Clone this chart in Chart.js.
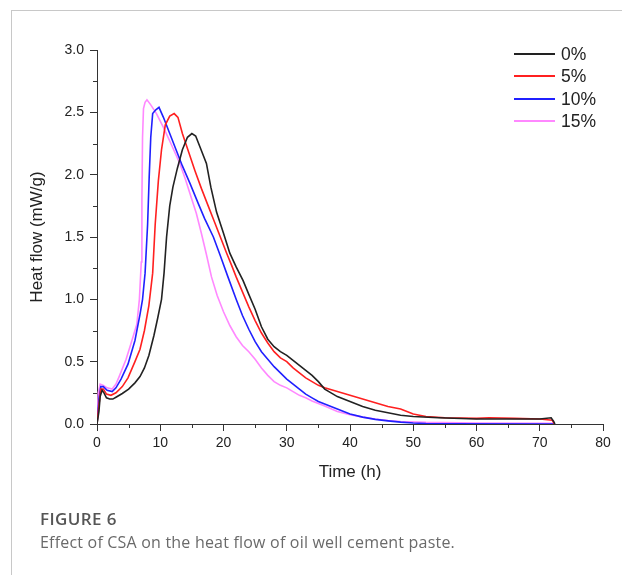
<!DOCTYPE html>
<html>
<head>
<meta charset="utf-8">
<script src="https://cdn.jsdelivr.net/npm/chart.js@4"></script>
<style>
  html, body { margin:0; padding:0; background:#fff; }
  #wrap { position:relative; width:622px; height:575px; overflow:hidden; }
  #frame { position:absolute; left:11px; top:10px; width:620px; height:580px;
           border-left:1px solid #c8c8c8; border-top:1px solid #c8c8c8; }
  canvas { position:absolute; left:0; top:0; }
  #legend { position:absolute; left:0; top:0; font-family:"Liberation Sans", Arial, sans-serif;
            font-size:17.5px; color:#222; }
  .lg-row { position:absolute; left:514px; width:100px; height:20px; }
  .lg-line { position:absolute; left:0; top:9px; width:41px; height:2px; }
  .lg-text { position:absolute; left:47px; top:0; line-height:20px; }
  #cap1 { position:absolute; left:40px; top:508px; font-family:"Open Sans", sans-serif; font-weight:600;
          font-size:17px; letter-spacing:0.4px; color:#555; line-height:22px; }
  #cap2 { position:absolute; left:40px; top:531px; font-family:"Open Sans", sans-serif; font-weight:400;
          font-size:16px; letter-spacing:0.2px; color:#6a6a6a; line-height:22px; }
</style>
</head>
<body>
<div id="wrap">
  <div id="frame"></div>
  <canvas id="c" width="622" height="575"></canvas>
  <div id="legend"></div>
  <div id="cap1">FIGURE 6</div>
  <div id="cap2">Effect of CSA on the heat flow of oil well cement paste.</div>
</div>
<script>
// ---- Data ----
const seriesLabels = ["0%", "5%", "10%", "15%"];
const seriesColors = ["#222222", "#ff2020", "#2020ff", "#ff88ff"];

const time0 = [0,0.3,0.5,0.8,1.1,1.5,2.0,2.5,3.0,4.0,5.0,6.0,6.8,7.5,8.2,9.0,9.6,10.2,10.6,11.0,11.5,12.0,12.7,13.5,14.3,15.0,15.6,16.3,17.3,18.0,18.9,20.0,21.0,22.0,23.1,24,25,26,27,28,29,30,31,32,33,34,35,36,37,38,40,42,44,46,48,50,54,60,66,70,71.8,72.2,72.4];
const flow0 = [0,0.10,0.22,0.27,0.25,0.21,0.20,0.20,0.215,0.245,0.28,0.33,0.38,0.45,0.55,0.71,0.85,1.00,1.21,1.50,1.75,1.90,2.05,2.20,2.30,2.33,2.31,2.22,2.09,1.90,1.70,1.53,1.37,1.26,1.15,1.04,0.92,0.78,0.68,0.62,0.58,0.55,0.51,0.47,0.43,0.39,0.34,0.28,0.25,0.22,0.18,0.14,0.11,0.09,0.07,0.06,0.05,0.04,0.04,0.04,0.05,0.02,0];

const time5 = [0,0.3,0.6,1.0,1.5,2.2,3.0,4.0,4.9,6.0,6.8,7.5,8.2,8.8,9.2,9.7,10.2,10.8,11.5,12.2,12.8,13.5,14.5,15.5,16.5,17.5,18.5,19.5,20.5,21.3,22,23,24,25,26,27,28,29,30,31,32,33,34,35,36,38,40,42,44,46,48,49,50,52,55,60,62,66,70,72,72.3];
const flow5 = [0,0.15,0.28,0.28,0.24,0.23,0.25,0.30,0.37,0.50,0.60,0.75,0.95,1.21,1.60,1.95,2.20,2.40,2.47,2.49,2.46,2.33,2.18,2.03,1.89,1.76,1.63,1.50,1.37,1.27,1.18,1.06,0.94,0.83,0.73,0.65,0.58,0.53,0.50,0.45,0.41,0.37,0.34,0.31,0.29,0.26,0.23,0.20,0.17,0.14,0.12,0.10,0.08,0.06,0.05,0.045,0.05,0.045,0.04,0.03,0];

const time10 = [0,0.3,0.6,1.0,1.6,2.4,3.0,3.8,4.9,6.0,6.8,7.2,7.6,8.0,8.25,8.5,8.8,9.3,9.8,10.5,11.5,12.5,13.5,14.7,16.0,17.0,18.4,19.5,20.7,22,23,24,25,26,27,28,29,30,31,32,33,34,35,36,38,40,42,44,46,48,50,52,56,72.3];
const flow10 = [0,0.20,0.30,0.30,0.27,0.26,0.29,0.36,0.48,0.67,0.88,1.00,1.21,1.60,1.98,2.30,2.49,2.52,2.54,2.46,2.33,2.20,2.07,1.93,1.77,1.65,1.50,1.35,1.18,1.00,0.87,0.76,0.66,0.58,0.52,0.46,0.41,0.36,0.32,0.28,0.24,0.21,0.18,0.16,0.12,0.08,0.055,0.037,0.025,0.015,0.008,0.004,0.002,0.0];

const time15 = [0,0.2,0.5,1.0,1.6,2.4,3.0,3.5,4.6,5.4,6.3,6.7,7.0,7.1,7.2,7.35,7.6,7.9,8.5,9.4,10.5,11.5,12.3,13.1,14.0,15.0,15.7,16.5,17.3,18.1,19,20,21,22,23,24,25,26,27,28,29,30,31,32,33,34,35,36,38,40,42,44,46,48,52,60,72.3];
const flow15 = [0,0.25,0.32,0.31,0.29,0.28,0.32,0.38,0.52,0.65,0.80,1.00,1.30,1.80,2.30,2.53,2.58,2.60,2.56,2.49,2.38,2.27,2.18,2.09,1.96,1.80,1.69,1.53,1.36,1.18,1.03,0.90,0.79,0.70,0.63,0.58,0.52,0.45,0.39,0.34,0.31,0.29,0.26,0.23,0.21,0.185,0.165,0.145,0.10,0.075,0.055,0.04,0.028,0.02,0.013,0.008,0.005];

const xTicksMajor = [0,10,20,30,40,50,60,70,80];
const yTicksMajor = [0.0,0.5,1.0,1.5,2.0,2.5,3.0];
const xTicksMinor = [5,15,25,35,45,55,65,75];
const yTicksMinor = [0.25,0.75,1.25,1.75,2.25,2.75];
const xTitle = "Time (h)";
const yTitle = "Heat flow (mW/g)";

// ---- Build datasets ----
const times = [time0, time5, time10, time15];
const flows = [flow0, flow5, flow10, flow15];
const datasets = seriesLabels.map((lab, i) => ({
  label: lab,
  data: times[i].map((t, k) => ({x: t, y: flows[i][k]})),
  borderColor: seriesColors[i],
  backgroundColor: seriesColors[i],
  borderWidth: 1.6,
  pointRadius: 0,
  tension: 0,
  fill: false,
  order: i
}));

const FONT = '"Liberation Sans", Arial, sans-serif';
const AXIS = '#333333';

const minorTicks = {
  id: 'minorTicks',
  afterDraw(chart) {
    const ctx = chart.ctx;
    const xs = chart.scales.x, ys = chart.scales.y;
    const area = chart.chartArea;
    ctx.save();
    ctx.strokeStyle = AXIS;
    ctx.lineWidth = 1;
    ctx.beginPath();
    yTicksMinor.forEach(v => {
      const y = Math.round(ys.getPixelForValue(v)) + 0.5;
      ctx.moveTo(area.left - 4, y); ctx.lineTo(area.left, y);
    });
    xTicksMinor.forEach(v => {
      const x = Math.round(xs.getPixelForValue(v)) + 0.5;
      ctx.moveTo(x, area.bottom); ctx.lineTo(x, area.bottom + 4);
    });
    ctx.stroke();
    ctx.restore();
  }
};

new Chart(document.getElementById('c'), {
  type: 'line',
  data: { datasets },
  options: {
    responsive: false,
    animation: false,
    events: [],
    layout: { padding: { left: 27, right: 19, top: 50, bottom: 92 } },
    plugins: { legend: { display: false }, tooltip: { enabled: false } },
    scales: {
      x: {
        type: 'linear', min: 0, max: 80,
        afterFit(s) { s.height = 59; },
        afterBuildTicks(s) { s.ticks = xTicksMajor.map(v => ({value: v})); },
        border: { display: true, color: AXIS, width: 1 },
        grid: { drawOnChartArea: false, drawTicks: true, tickLength: 7, color: AXIS },
        ticks: { padding: 4, color: '#222', font: { family: FONT, size: 14 }, maxRotation: 0,
                 callback: v => String(v) },
        title: { display: true, text: xTitle, color: '#222', padding: 0,
                 font: { family: FONT, size: 17 } }
      },
      y: {
        type: 'linear', min: 0, max: 3,
        afterFit(s) { s.width = 70; },
        afterBuildTicks(s) { s.ticks = yTicksMajor.map(v => ({value: v})); },
        border: { display: true, color: AXIS, width: 1 },
        grid: { drawOnChartArea: false, drawTicks: true, tickLength: 7, color: AXIS },
        ticks: { padding: 6, color: '#222', font: { family: FONT, size: 14 },
                 callback: v => Number(v).toFixed(1) },
        title: { display: true, text: yTitle, color: '#222', padding: 0,
                 font: { family: FONT, size: 17 } }
      }
    }
  },
  plugins: [minorTicks]
});

// ---- HTML legend built from the series arrays ----
const legendRowsTop = [44, 66, 89, 111];
const lg = document.getElementById('legend');
seriesLabels.forEach((lab, i) => {
  const row = document.createElement('div');
  row.className = 'lg-row';
  row.style.top = legendRowsTop[i] + 'px';
  const ln = document.createElement('div');
  ln.className = 'lg-line';
  ln.style.background = seriesColors[i];
  const tx = document.createElement('div');
  tx.className = 'lg-text';
  tx.textContent = lab;
  row.appendChild(ln); row.appendChild(tx);
  lg.appendChild(row);
});
</script>
</body>
</html>
